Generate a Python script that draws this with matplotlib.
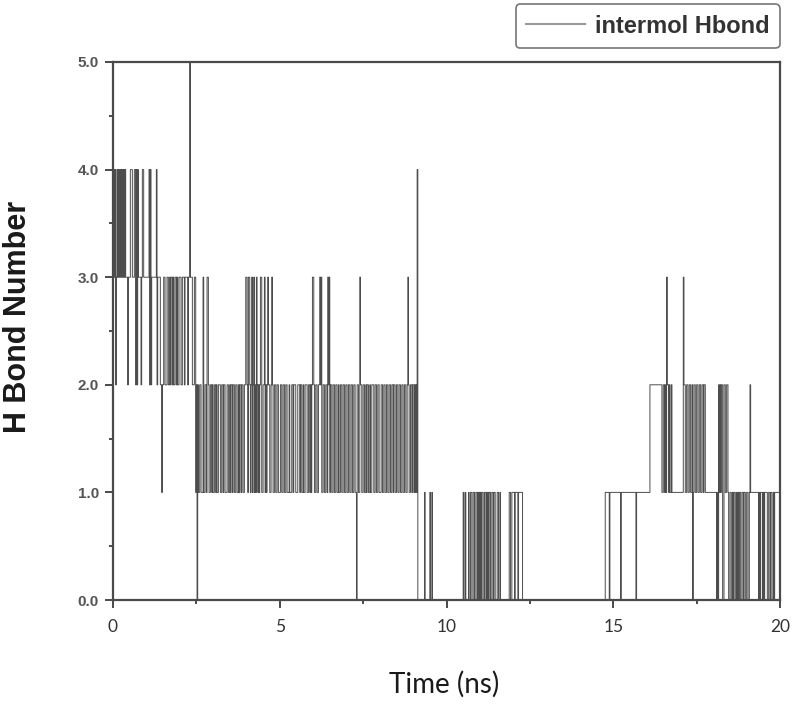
import numpy as np
import matplotlib
matplotlib.use('Agg')
from matplotlib import pyplot as plt
from matplotlib.ticker import MultipleLocator

# H-bond count: one string per ns, one digit per 0.02 ns
seg_start = list(range(20))
seg_codes = [
	"3434234343 4343434343 3323334443 3344242433 3323443333",  # 0 ns
	"3333424233 3333342333 3221223322 2332232332 3223323223",  # 1
	"3322333233 3323353332 2233120211 2211131122 1332112212",  # 2
	"1122121122 2112212211 1221121221 2211221121 2212211223",  # 3
	"3213321231 2312132121 2331122312 1232211232 1122112211",  # 4
	"1221122112 2111211122 1222111222 1221121122 2112212123",  # 5
	"3211221122 3231122112 2132312211 2211221121 1221122112",  # 6
	"2112211221 1221102211 3221122112 1221121122 2112211221",  # 7
	"1122112211 2211221122 1221122112 2112211221 1232112212",  # 8
	"2121214000 0000000100 0000010010 0000000000 0000000000",  # 9
	"0000000000 0000000000 0000010010 0001001100 1100110101",  # 10
	"0101100110 1010110011 0110001100 1000000000 0000110011",  # 11
	"1101111011 1111000000 0000000000 0000000000 0000000000",  # 12
	"0000000000 0000000000 0000000000 0000000000 0000000000",  # 13
	"0000000000 0000000000 0000000000 0000000011 1111011111",  # 14
	"1111111111 1011111111 1111111111 1111011111 1111111111",  # 15
	"1111122222 2222222222 2221122121 3221211211 1111111111",  # 16
	"1111132211 2211221120 1221122112 2112212211 1111111111",  # 17
	"1111101021 2122002211 2210011001 0110010101 1001101100",  # 18
	"1100121111 1111111101 0111010111 1001101100 1011111111",  # 19
]
xticks = [0, 5, 10, 15, 20]
yticks = [0, 1, 2, 3, 4, 5]
ytick_labels = ['0.0', '1.0', '2.0', '3.0', '4.0', '5.0']

# unpack the strings into a time series
times = []
hbonds = []
for start, code in zip(seg_start, seg_codes):
	digits = code.replace(' ', '')
	n = len(digits)
	for i, d in enumerate(digits):
		times.append(start + i / n)
		hbonds.append(int(d))
times.append(20.0)
hbonds.append(hbonds[-1])

fig = plt.figure(figsize=(7.98, 7.08), dpi=100)
ax = fig.add_axes([113 / 798, 1 - 600 / 708, 667 / 798, 538 / 708])

ax.plot(times, hbonds, drawstyle='steps-post', color='#4d4d4d', linewidth=0.7,
	label='intermol Hbond')

ax.set_xlim(0, 20)
ax.set_ylim(0, 5)
ax.set_xticks(xticks)
ax.set_yticks(yticks)
ax.set_yticklabels(ytick_labels)
ax.xaxis.set_minor_locator(MultipleLocator(2.5))
ax.yaxis.set_minor_locator(MultipleLocator(0.5))

for side in ['left', 'bottom', 'top', 'right']:
	ax.spines[side].set_linewidth(1.6)
	ax.spines[side].set_color('#4a4a4a')

ax.tick_params(which='both', direction='out', color='#4a4a4a', width=1.4,
	top=False, right=False)
ax.tick_params(which='major', length=6)
ax.tick_params(which='minor', length=3)
ax.tick_params(axis='x', pad=8)
ax.tick_params(axis='y', pad=4)

for lbl in ax.get_xticklabels():
	lbl.set_fontfamily('Lato')
	lbl.set_fontsize(12.5)
	lbl.set_color('#333333')
for lbl in ax.get_yticklabels():
	lbl.set_fontfamily('Liberation Sans')
	lbl.set_fontweight('bold')
	lbl.set_fontsize(11)
	lbl.set_color('#555555')

fig.text(18 / 798, 1 - 317 / 708, 'H Bond Number', rotation=90, ha='center',
	va='center', family='Liberation Sans', weight='bold', size=22, color='#1a1a1a')
fig.text(444 / 798, 1 - 684 / 708, 'Time (ns)', ha='center', va='center',
	family='Lato', size=20, color='#1a1a1a')

leg = fig.legend(loc='upper right', bbox_to_anchor=(780 / 798, 1 - 4 / 708),
	borderaxespad=0,
	prop={'family': 'Liberation Sans', 'weight': 'bold', 'size': 17},
	handlelength=2.5, handletextpad=0.4, borderpad=0.45, fancybox=True,
	framealpha=1, edgecolor='#777777', labelcolor='#333333')
leg.get_frame().set_linewidth(1.2)
for line in leg.get_lines():
	line.set_color('#999999')
	line.set_linewidth(1.5)

fig.savefig('out.png', dpi=100)
